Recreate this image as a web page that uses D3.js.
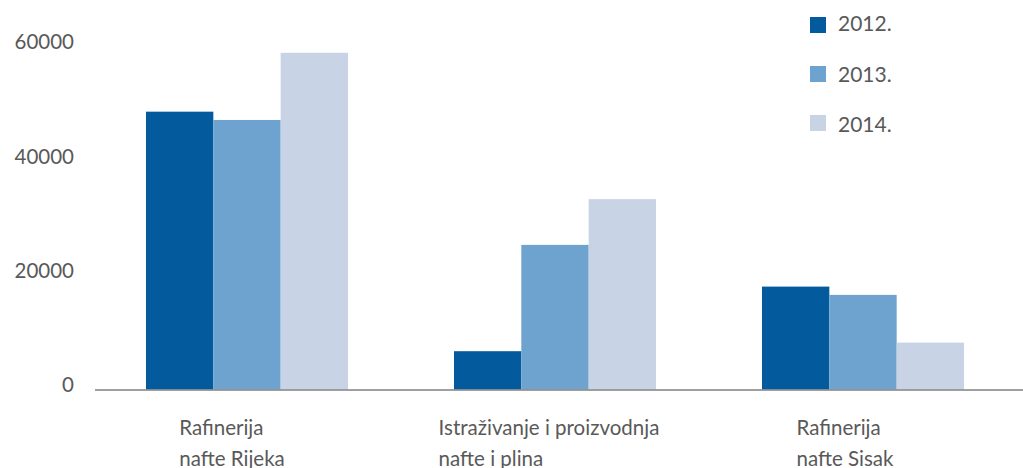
<!DOCTYPE html>
<html><head><meta charset="utf-8">
<script src="https://cdn.jsdelivr.net/npm/d3@7"></script>
<style>
html,body{margin:0;padding:0;background:#fff;}
svg{display:block;}
text{font-family:Lato,"Open Sans",sans-serif;fill:#595959;}
</style></head>
<body>
<svg id="chart" width="1023" height="468"></svg>
<script>
const categories = [["Rafinerija","nafte Rijeka"],["Istraživanje i proizvodnja","nafte i plina"],["Rafinerija","nafte Sisak"]];
const seriesNames = ["2012.","2013.","2014."];
const values2012 = [48600, 6700, 18000];
const values2013 = [47150, 25300, 16550];
const values2014 = [58900, 33300, 8200];
const yTicks = [0, 20000, 40000, 60000];
const colors = ["#035a9c","#6ea3d0","#c8d4e6"];

const series = [values2012, values2013, values2014];
const svg = d3.select("#chart");
const W = 1023, H = 468;

const x0 = d3.scaleBand().domain(d3.range(categories.length)).range([93, 1017]).paddingInner(0.344).paddingOuter(0.172);
const x1 = d3.scaleBand().domain(d3.range(seriesNames.length)).range([0, x0.bandwidth()]).padding(0);
const y = d3.scaleLinear().domain([0, 60000]).range([389.5, 46.5]);

// y tick labels
const yAxis = d3.axisLeft(y).tickValues(yTicks).tickSize(0).tickPadding(0).tickFormat(d3.format("d"));
const gy = svg.append("g").attr("transform","translate(74,0)").call(yAxis);
gy.select(".domain").remove();
gy.selectAll("text").attr("font-size", 20.5).attr("fill","#595959").attr("dy", "0.12em")
  .style("font-family","Lato, 'Open Sans', sans-serif");

// bars
const groups = svg.append("g").selectAll("g").data(categories).join("g")
  .attr("transform", (d,i) => `translate(${x0(i)},0)`);
groups.selectAll("rect").data((d,i) => series.map((s,j) => ({j, v: s[i]}))).join("rect")
  .attr("x", d => x1(d.j)).attr("width", x1.bandwidth())
  .attr("y", d => y(d.v)).attr("height", d => y(0) - y(d.v))
  .attr("fill", d => colors[d.j]);

// x axis line
svg.append("line").attr("x1", 95).attr("x2", W).attr("y1", y(0)+0.5).attr("y2", y(0)+0.5)
  .attr("stroke", "#808080").attr("stroke-width", 1.5);

// category labels (left-aligned blocks)
const labelShift = [-15, -6, -18];
categories.forEach((lines, i) => {
  const t = svg.append("text").attr("font-size", 20.5);
  lines.forEach((ln, k) => t.append("tspan").attr("y", 435 + k*31).text(ln));
  let wmax = 0;
  t.selectAll("tspan").each(function(){ wmax = Math.max(wmax, this.getComputedTextLength()); });
  const cx = x0(i) + x0.bandwidth()/2 + labelShift[i];
  t.selectAll("tspan").attr("x", cx - wmax/2);
});

// legend
const lg = svg.append("g").selectAll("g").data(seriesNames).join("g")
  .attr("transform", (d,i) => `translate(810,${17 + i*49})`);
lg.append("rect").attr("width",16).attr("height",16).attr("fill",(d,i)=>colors[i]);
lg.append("text").attr("x", 28).attr("y", (d,i)=> 14 + i*1.5).attr("font-size", 21).text(d => d);
</script>
</body></html>
